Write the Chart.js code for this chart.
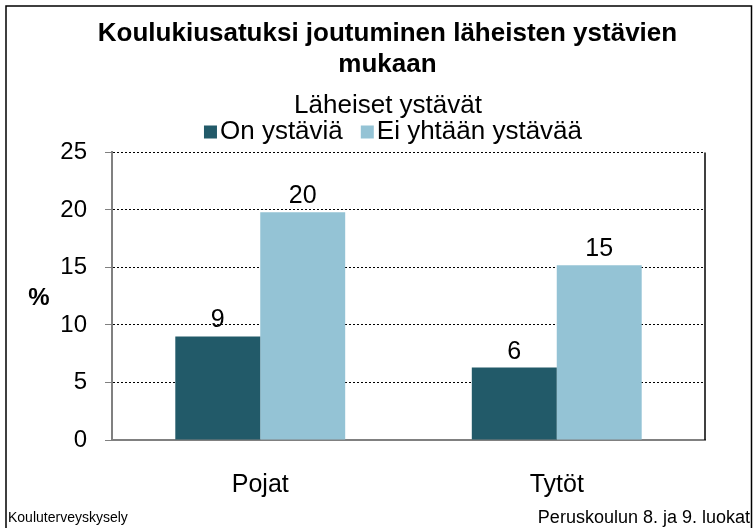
<!DOCTYPE html>
<html>
<head>
<meta charset="utf-8">
<script src="https://cdn.jsdelivr.net/npm/chart.js@4.4.1/dist/chart.umd.min.js"></script>
<style>
  html, body { margin: 0; padding: 0; background: #fff; }
  #wrap { width: 754px; height: 528px; position: relative; }
</style>
</head>
<body>
<div id="wrap"><canvas id="c" width="754" height="528"></canvas></div>
<script>
const titleLines = ['Koulukiusatuksi joutuminen läheisten ystävien', 'mukaan'];
const legendTitle = 'Läheiset ystävät';
const categories = ['Pojat', 'Tytöt'];
const seriesNames = ['On ystäviä', 'Ei yhtään ystävää'];
const onYstavia = [9.0, 6.3];
const eiYstavia = [19.8, 15.2];
const yTicks = [0, 5, 10, 15, 20, 25];
const yAxisLabel = '%';
const footerLeft = 'Kouluterveyskysely';
const footerRight = 'Peruskoulun 8. ja 9. luokat';
const colors = ['#225a69', '#94c3d5'];

const FONT = '"Liberation Sans", Arial, sans-serif';

const extras = {
  id: 'extras',
  afterDraw(chart) {
    const ctx = chart.ctx;
    const area = chart.chartArea;
    ctx.save();
    // outer frame
    ctx.strokeStyle = '#000';
    ctx.lineWidth = 1.5;
    ctx.beginPath();
    ctx.moveTo(6, 528); ctx.lineTo(6, 6); ctx.lineTo(751.5, 6); ctx.lineTo(751.5, 528);
    ctx.stroke();
    // right plot edge
    ctx.beginPath();
    ctx.moveTo(area.right, area.top); ctx.lineTo(area.right, area.bottom);
    ctx.stroke();
    // legend title
    ctx.fillStyle = '#000';
    ctx.textAlign = 'center';
    ctx.textBaseline = 'middle';
    ctx.font = '26px ' + FONT;
    ctx.fillText(legendTitle, 388, 106);
    // legend items
    const box = 13, gap = 3, spacing = 18;
    const widths = chart.data.datasets.map(d => ctx.measureText(d.label).width);
    let total = 0;
    widths.forEach((w, i) => { total += box + gap + w + (i ? spacing : 0); });
    let x = 393 - total / 2;
    const cy = 132;
    ctx.textAlign = 'left';
    chart.data.datasets.forEach((d, i) => {
      ctx.fillStyle = d.backgroundColor;
      ctx.fillRect(x, cy - box / 2, box, box);
      ctx.fillStyle = '#000';
      ctx.fillText(d.label, x + box + gap, cy);
      x += box + gap + widths[i] + spacing;
    });
    // value labels
    ctx.font = '25px ' + FONT;
    ctx.textAlign = 'center';
    ctx.textBaseline = 'alphabetic';
    chart.data.datasets.forEach((d, di) => {
      const meta = chart.getDatasetMeta(di);
      meta.data.forEach((bar, i) => {
        ctx.fillText(String(Math.round(d.data[i])), bar.x, bar.y - 9);
      });
    });
    // axis label %
    ctx.font = 'bold 24px ' + FONT;
    ctx.textBaseline = 'middle';
    ctx.fillText(yAxisLabel, 39, 298);
    // footers
    ctx.font = '14px ' + FONT;
    ctx.textAlign = 'left';
    ctx.textBaseline = 'alphabetic';
    ctx.fillText(footerLeft, 8, 522);
    ctx.font = '18px ' + FONT;
    ctx.textAlign = 'right';
    ctx.fillText(footerRight, 750, 523);
    ctx.restore();
  }
};

new Chart(document.getElementById('c'), {
  type: 'bar',
  data: {
    labels: categories,
    datasets: [
      { label: seriesNames[0], data: onYstavia, backgroundColor: colors[0] },
      { label: seriesNames[1], data: eiYstavia, backgroundColor: colors[1] }
    ]
  },
  options: {
    responsive: false,
    animation: false,
    devicePixelRatio: 1,
    layout: { padding: { left: 58, right: 37, top: 0, bottom: 0 } },
    datasets: { bar: { categoryPercentage: 0.573, barPercentage: 1.0, borderWidth: 0 } },
    plugins: {
      legend: { display: false },
      tooltip: { enabled: false },
      title: {
        display: true,
        text: titleLines,
        color: '#000',
        font: { family: FONT, size: 26, weight: 'bold', lineHeight: 1.2 },
        padding: { top: 18, bottom: 72 }
      }
    },
    scales: {
      x: {
        grid: { display: false },
        border: { display: true, color: '#808080', width: 2 },
        ticks: { color: '#000', font: { family: FONT, size: 25 }, padding: 22 },
        afterFit(scale) { scale.height = 88; }
      },
      y: {
        min: 0, max: 25,
        afterBuildTicks(scale) { scale.ticks = yTicks.map(v => ({ value: v })); },
        grid: { color: '#000', lineWidth: 1, tickColor: '#808080', tickLength: 7, tickBorderDash: [] },
        border: { display: true, color: '#808080', width: 2, dash: [2, 2] },
        ticks: { color: '#000', font: { family: FONT, size: 24 }, padding: 18 },
        afterFit(scale) { scale.width = 54; }
      },
      yRight: {
        position: 'right',
        min: 0, max: 25,
        grid: { display: false, drawOnChartArea: false },
        border: { display: false },
        ticks: { display: false },
        afterFit(scale) { scale.width = 12; }
      }
    }
  },
  plugins: [extras]
});
</script>
</body>
</html>
